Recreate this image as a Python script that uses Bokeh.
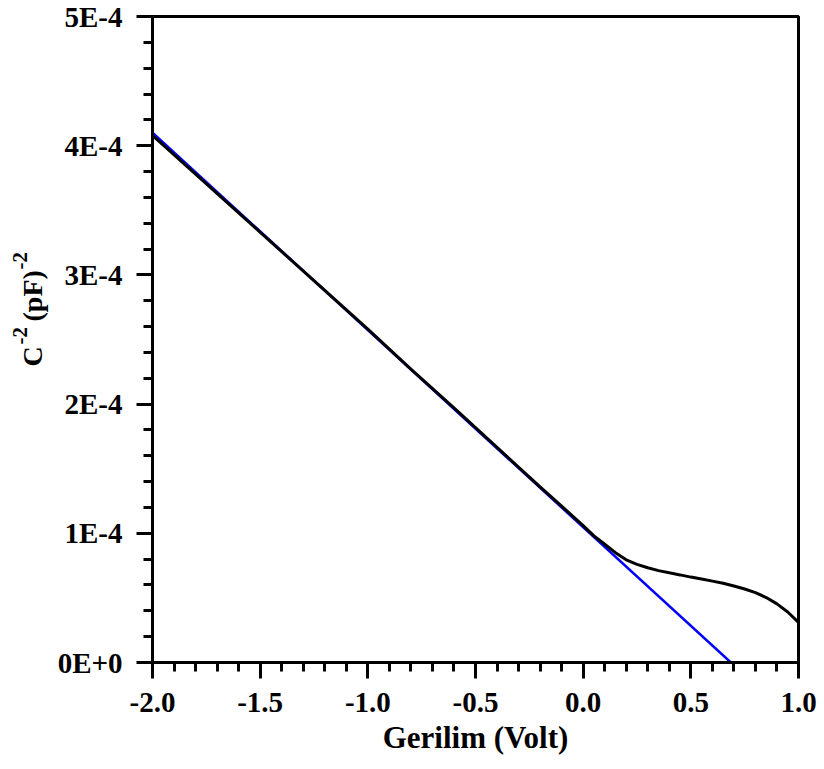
from bokeh.plotting import figure
from bokeh.models import Range1d, FixedTicker, CustomJSTickFormatter
from bokeh.layouts import row
from bokeh.core.properties import value
from bokeh.embed import file_html
from bokeh.resources import INLINE
import numpy as np

# ---- data ----
voltage = [-2.0, -1.8, -1.6, -1.4, -1.2, -1.0, -0.8, -0.6, -0.4, -0.2, -0.1,
           0.0, 0.05, 0.1, 0.15, 0.2, 0.25, 0.3, 0.35, 0.4, 0.45, 0.5, 0.55,
           0.6, 0.65, 0.7, 0.75, 0.8, 0.85, 0.9, 0.95, 1.0]
inv_c2 = [4.08e-4, 3.78e-4, 3.48e-4, 3.18e-4, 2.88e-4, 2.58e-4, 2.27e-4,
          1.97e-4, 1.665e-4, 1.36e-4, 1.21e-4,
          1.06e-4, 0.98e-4, 0.915e-4, 0.85e-4, 0.795e-4, 0.76e-4, 0.733e-4,
          0.711e-4, 0.694e-4, 0.678e-4, 0.661e-4, 0.646e-4, 0.630e-4,
          0.613e-4, 0.592e-4, 0.569e-4, 0.541e-4, 0.503e-4, 0.454e-4,
          0.391e-4, 0.311e-4]
fit_voltage = [-2.0, 0.686]
fit_inv_c2 = [4.10e-4, 0.0]

x_ticks = [-2.0, -1.5, -1.0, -0.5, 0.0, 0.5, 1.0]
x_tick_labels = ["-2.0", "-1.5", "-1.0", "-0.5", "0.0", "0.5", "1.0"]
y_ticks = [0.0, 1e-4, 2e-4, 3e-4, 4e-4, 5e-4]
y_tick_labels = ["0E+0", "1E-4", "2E-4", "3E-4", "4E-4", "5E-4"]
y_title_parts = ["C", "-2", "(pF)", "-2"]

FONT = "Liberation Serif"

# ---- narrow strip holding the y-axis title (with superscripts) ----
t = figure(frame_width=54, frame_height=769, title=None,
           min_border_left=0, min_border_right=0, min_border_top=0, min_border_bottom=0,
           x_range=Range1d(0, 54), y_range=Range1d(0, 769),
           x_axis_location=None, y_axis_location=None,
           output_backend="svg", toolbar_location=None,
           background_fill_color="white", border_fill_color="white")
t.grid.visible = False
t.outline_line_color = None
t.text(x=[32, 19, 32, 19], y=[419, 441, 464, 516], text=y_title_parts,
       angle=np.pi / 2, text_align="left", text_baseline="alphabetic",
       text_font=value(FONT), text_font_style="bold",
       text_font_size=["28px", "21px", "28px", "21px"], text_color="black")

# ---- main plot ----
p = figure(frame_width=646, frame_height=646, title=None,
           min_border_left=92, min_border_right=26,
           min_border_top=16, min_border_bottom=107,
           x_range=Range1d(-2.0, 1.0), y_range=Range1d(0.0, 5e-4),
           output_backend="svg", toolbar_location=None,
           background_fill_color="white", border_fill_color="white")

p.grid.visible = False
p.outline_line_color = "black"
p.outline_line_width = 3

p.line(fit_voltage, fit_inv_c2, line_color="#0000ff", line_width=2.5)
p.line(voltage, inv_c2, line_color="black", line_width=3)

p.xaxis.ticker = FixedTicker(ticks=x_ticks,
                             minor_ticks=list(np.round(np.arange(-2.0, 1.0001, 0.1), 6)))
p.xaxis.formatter = CustomJSTickFormatter(args=dict(t=x_ticks, l=x_tick_labels), code="""
const i = t.findIndex(v => Math.abs(v - tick) < 1e-9); return i >= 0 ? l[i] : "";""")
p.yaxis.ticker = FixedTicker(ticks=y_ticks,
                             minor_ticks=list(np.arange(0, 26) * 0.2e-4))
p.yaxis.formatter = CustomJSTickFormatter(args=dict(t=y_ticks, l=y_tick_labels), code="""
const i = t.findIndex(v => Math.abs(v - tick) < 1e-12); return i >= 0 ? l[i] : "";""")

for ax in (p.xaxis[0], p.yaxis[0]):
    ax.axis_line_width = 3
    ax.axis_line_color = "black"
    ax.major_tick_line_width = 3
    ax.minor_tick_line_width = 3
    ax.major_tick_line_color = "black"
    ax.minor_tick_line_color = "black"
    ax.major_tick_in = 0
    ax.minor_tick_in = 0
    ax.major_tick_out = 16
    ax.minor_tick_out = 9
    ax.major_label_text_font = FONT
    ax.major_label_text_font_style = "bold"
    ax.major_label_text_font_size = "29px"
    ax.major_label_text_color = "black"

p.xaxis.major_label_standoff = 14
p.yaxis.major_label_standoff = 14

p.xaxis.axis_label = "Gerilim (Volt)"
p.xaxis.axis_label_text_font = FONT
p.xaxis.axis_label_text_font_style = "bold"
p.xaxis.axis_label_text_font_size = "31px"
p.xaxis.axis_label_text_color = "black"
p.xaxis.axis_label_standoff = 5

layout = row(t, p, spacing=0)
open("out.html", "w").write(file_html(layout, INLINE))
